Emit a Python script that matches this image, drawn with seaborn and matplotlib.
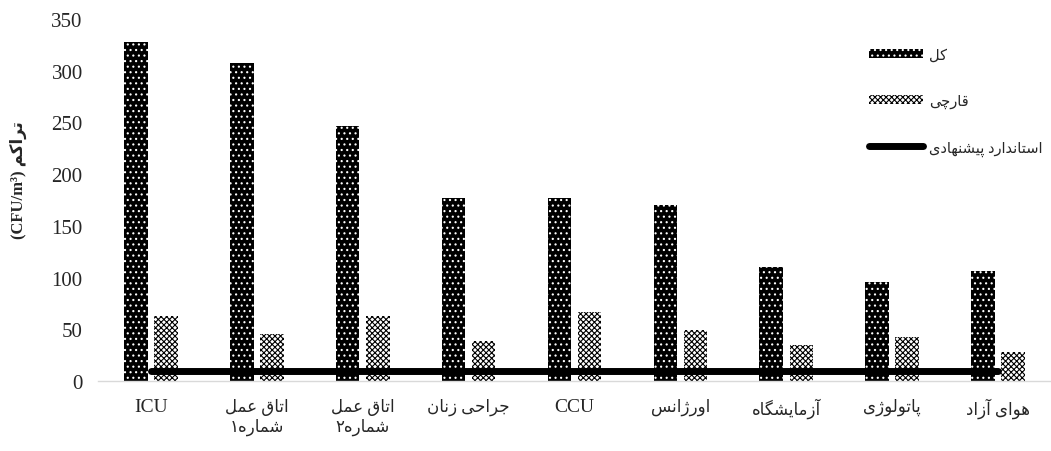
import numpy as np
import pandas as pd
import matplotlib
matplotlib.use('Agg')
import matplotlib.pyplot as plt
import seaborn as sns

# values
wards = ['ICU', 'اتاق عمل\nشماره۱', 'اتاق عمل\nشماره۲', 'جراحی زنان', 'CCU',
         'اورژانس', 'آزمایشگاه', 'پاتولوژی', 'هوای آزاد']
total = [328, 307, 247, 177, 177, 170, 110, 96, 106]
fungal = [63, 45, 63, 39, 67, 49, 35, 43, 28]
standard = [10, 10, 10, 10, 10, 10, 10, 10, 10]
series_names = ['کل', 'قارچی']
standard_name = 'استاندارد پیشنهادی'
y_title = 'تراکم'
y_unit = '(CFU/m³)'

# matplotlib has no arabic shaping, so map letters to presentation forms
# (isolated, final, initial, medial); right-joining letters have no initial/medial
FORMS = {
    'ا': ('\uFE8D', '\uFE8E', None, None),
    'آ': ('\uFE81', '\uFE82', None, None),
    'د': ('\uFEA9', '\uFEAA', None, None),
    'ر': ('\uFEAD', '\uFEAE', None, None),
    'ز': ('\uFEAF', '\uFEB0', None, None),
    'ژ': ('\uFB8A', '\uFB8B', None, None),
    'و': ('\uFEED', '\uFEEE', None, None),
    'پ': ('\uFB56', '\uFB57', '\uFB58', '\uFB59'),
    'ت': ('\uFE95', '\uFE96', '\uFE97', '\uFE98'),
    'ج': ('\uFE9D', '\uFE9E', '\uFE9F', '\uFEA0'),
    'چ': ('\uFB7A', '\uFB7B', '\uFB7C', '\uFB7D'),
    'ح': ('\uFEA1', '\uFEA2', '\uFEA3', '\uFEA4'),
    'س': ('\uFEB1', '\uFEB2', '\uFEB3', '\uFEB4'),
    'ش': ('\uFEB5', '\uFEB6', '\uFEB7', '\uFEB8'),
    'ع': ('\uFEC9', '\uFECA', '\uFECB', '\uFECC'),
    'ق': ('\uFED5', '\uFED6', '\uFED7', '\uFED8'),
    'ک': ('\uFB8E', '\uFB8F', '\uFB90', '\uFB91'),
    'گ': ('\uFB92', '\uFB93', '\uFB94', '\uFB95'),
    'ل': ('\uFEDD', '\uFEDE', '\uFEDF', '\uFEE0'),
    'م': ('\uFEE1', '\uFEE2', '\uFEE3', '\uFEE4'),
    'ن': ('\uFEE5', '\uFEE6', '\uFEE7', '\uFEE8'),
    'ه': ('\uFEE9', '\uFEEA', '\uFEEB', '\uFEEC'),
    'ی': ('\uFBFC', '\uFBFD', '\uFBFE', '\uFBFF'),
}


def fa_line(s):
    if not any(c in FORMS for c in s):
        return s
    out = []
    for i, ch in enumerate(s):
        if ch not in FORMS:
            out.append(ch)
            continue
        f = FORMS[ch]
        prev = s[i - 1] if i > 0 else ''
        nxt = s[i + 1] if i + 1 < len(s) else ''
        join_prev = prev in FORMS and FORMS[prev][2] is not None
        join_next = f[2] is not None and nxt in FORMS
        if join_prev and join_next:
            out.append(f[3])
        elif join_prev:
            out.append(f[1])
        elif join_next:
            out.append(f[2])
        else:
            out.append(f[0])
    return ''.join(out)[::-1]


def fa(s):
    return '\n'.join(fa_line(part) for part in s.split('\n'))


sns.set_style('white')
plt.rcParams['font.family'] = ['Liberation Serif', 'DejaVu Sans']
plt.rcParams['hatch.linewidth'] = 0.8

df = pd.DataFrame({
    'ward': wards * 2,
    'value': total + fungal,
    'series': [series_names[0]] * len(wards) + [series_names[1]] * len(wards),
})

fig = plt.figure(figsize=(10.51, 4.52), dpi=100)
ax = fig.add_axes([98 / 1051, 70 / 452, 953 / 1051, 362 / 452])

sns.barplot(data=df, x='ward', y='value', hue='series', order=wards,
            hue_order=series_names, palette=['black', 'white'],
            width=0.57, gap=0.22, errorbar=None, legend=False, ax=ax)

for bars, hatch, fc, hc in zip(ax.containers, ['...', 'xxxxxx'],
                               ['black', 'white'], ['white', 'black']):
    for p in bars:
        p.set_facecolor(fc)
        p.set_edgecolor(hc)
        p.set_hatch(hatch)
        p.set_linewidth(0)

sns.lineplot(x=np.arange(len(wards)), y=standard, color='black',
             linewidth=5, solid_capstyle='round', ax=ax)

ax.set_xlim(-0.5, len(wards) - 0.5)
ax.set_ylim(0, 350)
ax.set_yticks(range(0, 351, 50))
ax.set_xticks(range(len(wards)))
ax.set_xticklabels([fa(w) for w in wards], fontsize=12)
for lab in ax.get_xticklabels():
    if lab.get_text().isascii():
        lab.set_fontsize(14)
ax.set_xlabel('')
ax.tick_params(axis='y', length=0, pad=11, labelsize=15)
ax.tick_params(axis='x', length=0, pad=12)

for side in ['left', 'top', 'right']:
    ax.spines[side].set_visible(False)
ax.spines['bottom'].set_color('#d9d9d9')
ax.spines['bottom'].set_linewidth(1)

ax.set_ylabel(y_unit + ' ' + fa(y_title), fontsize=12, fontweight='bold')
ax.yaxis.set_label_coords(-0.0745, 0.558)

handles = [ax.containers[0], ax.containers[1], ax.lines[0]]
labels = [fa(n) for n in series_names] + [fa(standard_name)]
ax.legend(handles, labels, loc='upper left',
          bbox_to_anchor=(862 / 1051, 1 - 42 / 452), bbox_transform=fig.transFigure,
          frameon=False, handlelength=3.7, handleheight=0.6, labelspacing=2.2,
          handletextpad=0.4, borderpad=0, fontsize=10.5)

plt.savefig('out.png', dpi=100)
